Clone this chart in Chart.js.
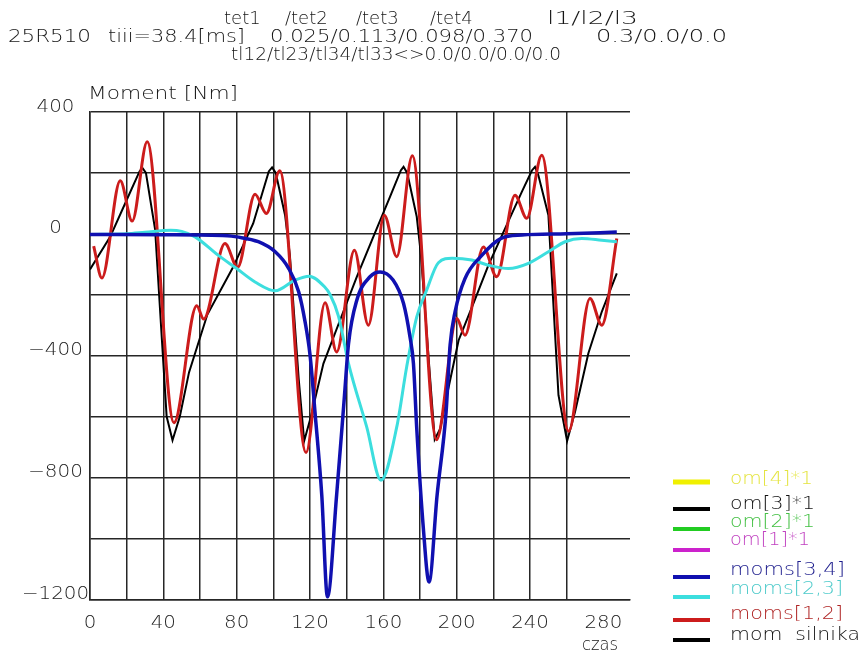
<!DOCTYPE html>
<html>
<head>
<meta charset="utf-8">
<script src="https://cdn.jsdelivr.net/npm/chart.js@4"></script>
<style>
  html, body { margin: 0; padding: 0; background: #ffffff; }
  #wrap { position: relative; width: 860px; height: 652px; overflow: hidden; }
  #c { position: absolute; left: 0; top: 0; }
  #txt { position: absolute; left: 0; top: 0; pointer-events: none; }
  #txt text { font-family: "DejaVu Sans", sans-serif; font-weight: 200; font-size: 18px; fill: #151515; }
  #txt .tick { font-size: 17px; fill: #1c1c1c; }
</style>
</head>
<body>
<div id="wrap">
  <canvas id="c" width="860" height="652"></canvas>
  <svg id="txt" width="860" height="652" xmlns="http://www.w3.org/2000/svg">
    <text x="224" y="17" dominant-baseline="central">tet1</text>
    <text x="285" y="17" dominant-baseline="central">/tet2</text>
    <text x="356" y="17" dominant-baseline="central">/tet3</text>
    <text x="430" y="17" dominant-baseline="central">/tet4</text>
    <text x="547" y="17" dominant-baseline="central" textLength="91" lengthAdjust="spacingAndGlyphs">l1/l2/l3</text>

    <text x="8" y="35" dominant-baseline="central" textLength="83" lengthAdjust="spacingAndGlyphs">25R510</text>
    <text x="108" y="35" dominant-baseline="central" textLength="137" lengthAdjust="spacingAndGlyphs">tiii=38.4[ms]</text>
    <text x="270" y="35" dominant-baseline="central" textLength="263" lengthAdjust="spacingAndGlyphs">0.025/0.113/0.098/0.370</text>
    <text x="596" y="35" dominant-baseline="central" textLength="131" lengthAdjust="spacingAndGlyphs">0.3/0.0/0.0</text>

    <text x="231" y="53" dominant-baseline="central" textLength="330" lengthAdjust="spacingAndGlyphs">tl12/tl23/tl34/tl33&lt;&gt;0.0/0.0/0.0/0.0</text>

    <text x="88" y="92" dominant-baseline="central" textLength="150" lengthAdjust="spacingAndGlyphs">Moment [Nm]</text>
    <text x="600" y="643" dominant-baseline="central" text-anchor="middle" textLength="36" lengthAdjust="spacingAndGlyphs">czas</text>
    <g id="ticks"></g>
    <g id="legend"></g>
  </svg>
</div>
<script>
// ---- series: engine torque (mom silnika)
const silnikX = [0, 11, 20, 27, 28.5, 30.5, 35.5, 41.8, 45, 49, 54, 64, 78, 89, 97.5, 99.3, 101.3, 106.4, 109, 113.8, 116.8,
                 120.5, 127.3, 136.4, 145.5, 154.5, 163.6, 169.5, 171, 173, 178.2, 180.5, 185.5, 188,
                 191, 195, 201, 209.5, 217.3, 226.4, 235.5, 241, 242.7, 244.5, 250, 255.5, 260.2,
                 264.5, 271.8, 279.1, 287.3];
const silnikY = [-117, -10, 111, 205, 217, 200, 15, -600, -678, -600, -455, -265, -110, 34, 205, 218, 200, 61, -70, -475, -680,
                 -600, -426, -283, -141, -10, 121, 208, 220, 200, 56, -70, -475, -675,
                 -640, -520, -350, -223, -103, 18, 138, 208, 220, 193, 61, -530, -680,
                 -585, -392, -256, -130];

// ---- series: moms[1,2]
const moms12X = [2, 6.5, 16.5, 23, 31.2, 45.8, 58.2, 62, 73.6, 80.5, 90, 96.2, 103.5, 117.8,
                 128.2, 134.5, 144.2, 151.8, 160.5, 167.3, 175.8, 189,
                 200, 204.5, 214.5, 221.8, 231.8, 238.2, 246.4, 261, 272.7, 279.1, 287.3];
const moms12Y = [-40, -145, 174, 42, 302, -620, -236, -280, -32, -110, 130, 67, 207, -718,
                 -226, -388, -54, -300, 61, -75, 256, -676,
                 -278, -333, -43, -141, 127, 51, 258, -648, -212, -300, -15];

// ---- series: moms[2,3]
const moms23X = [0, 20, 30, 44, 50, 57.3, 69.8, 80, 90, 101, 111.8, 119.5, 127.9, 131, 135.5, 141, 150.9, 158.7,
                 167.3, 172.7, 178.2, 183.6, 190, 197.5, 208.2, 217.3, 228.2, 239.1, 250, 259.1, 268.2, 279.1, 287.3];
const moms23Y = [-2, 0, 5, 12, 8, -10, -70, -114, -158, -187, -152, -139, -174, -200, -270, -426, -634, -809,
                 -634, -437, -273, -185, -95, -80, -86, -103, -114, -97, -59, -26, -15, -21, -26];

// ---- series: moms[3,4]
const moms34X = [0, 40, 75, 80, 91.8, 101, 108.4, 113.8, 117.3, 120, 122.7, 126.4, 129.5, 134.5, 138.8, 141,
                 145.5, 152.7, 158.2, 165.3, 171, 174.5, 176.4, 178.2, 181.8, 184.9, 189.3, 194.2, 196.4,
                 199.1, 204.5, 213.8, 224.2, 235.6, 260, 287.3];
const moms34Y = [-2, -3, -6, -10, -26, -59, -114, -190, -289, -398, -585, -858, -1192, -858, -530, -360,
                 -218, -141, -125, -152, -229, -338, -426, -639, -967, -1143, -858, -585, -365,
                 -256, -147, -70, -15, -4, 0, 6];

// ---- axis ticks
const yTickLabels = [-1200, -800, -400, 0, 400];
const xTickLabels = [0, 40, 80, 120, 160, 200, 240, 280];

// ---- legend entries (top to bottom)
const seriesNames  = ['om[4]*1', 'om[3]*1', 'om[2]*1', 'om[1]*1', 'moms[3,4]', 'moms[2,3]', 'moms[1,2]', 'mom  silnika'];
const lineColors   = ['#f0f000', '#000000', '#22cc22', '#cc22cc', '#1010b0', '#3cdede', '#cc1c1c', '#000000'];
const labelColors  = ['#e4e440', '#111111', '#44c044', '#c040c0', '#1c1c8c', '#4ccaca', '#b02626', '#111111'];

const pts = (xs, ys) => xs.map((x, i) => ({ x: x, y: ys[i] }));

const seriesData = [[], [], [], [], pts(moms34X, moms34Y), pts(moms23X, moms23Y), pts(moms12X, moms12Y), pts(silnikX, silnikY)];
const widths = [3, 2, 3, 3, 3.5, 3, 3, 2];

const datasets = seriesNames.map((name, i) => ({
  label: name,
  data: seriesData[i],
  borderColor: lineColors[i],
  borderWidth: widths[i],
  pointRadius: 0,
  fill: false,
  tension: i === 7 ? 0 : 0.4,
  cubicInterpolationMode: i === 7 ? 'default' : 'monotone'
}));

const NS = 'http://www.w3.org/2000/svg';
const fmt = v => (v < 0 ? '\u2212' + Math.abs(v) : String(v));
// wide stroke-font look: fixed advance per digit, longer minus sign
const labelWidth = s => s.replace('\u2212', '').length * 12.6 + (s.startsWith('\u2212') ? 17 : 0);

function addText(parent, x, y, str, anchor, cls, width) {
  const t = document.createElementNS(NS, 'text');
  t.setAttribute('x', x); t.setAttribute('y', y);
  t.setAttribute('dominant-baseline', 'central');
  t.setAttribute('text-anchor', anchor);
  if (cls) t.setAttribute('class', cls);
  if (width) { t.setAttribute('textLength', width); t.setAttribute('lengthAdjust', 'spacingAndGlyphs'); }
  t.textContent = str;
  parent.appendChild(t);
  return t;
}

// tick labels placed from the chart's own scales
const tickLabelPlugin = {
  id: 'tickLabels',
  afterDraw(chart) {
    const g = document.getElementById('ticks');
    while (g.firstChild) g.removeChild(g.firstChild);
    const xs = chart.scales.x, ys = chart.scales.y;
    yTickLabels.forEach(v => {
      const s = fmt(v);
      addText(g, 55.5, ys.getPixelForValue(v) - 6.5, s, 'middle', 'tick', labelWidth(s));
    });
    xTickLabels.forEach(v => {
      const s = String(v);
      addText(g, xs.getPixelForValue(v), xs.bottom - 30.5, s, 'middle', 'tick', labelWidth(s));
    });
  }
};

new Chart(document.getElementById('c'), {
  type: 'line',
  data: { datasets: datasets },
  plugins: [tickLabelPlugin],
  options: {
    responsive: false,
    animation: false,
    devicePixelRatio: 1,
    layout: { padding: { top: 112, right: 230, bottom: 0, left: 0 } },
    plugins: { legend: { display: false }, tooltip: { enabled: false }, title: { display: false } },
    scales: {
      x: {
        type: 'linear', min: 0, max: 294.5,
        afterFit: s => { s.height = 52.7; },
        ticks: { display: false, stepSize: 20, autoSkip: false },
        grid: {
          drawTicks: false, lineWidth: 1.5,
          color: c => (c.tick && c.tick.value % 20 === 0 ? '#262626' : 'rgba(0,0,0,0)')
        },
        border: { display: true, color: '#262626', width: 1.5 }
      },
      y: {
        type: 'linear', min: -1200, max: 400,
        afterFit: s => { s.width = 90; },
        ticks: { display: false, stepSize: 200, autoSkip: false },
        grid: { drawTicks: false, lineWidth: 1.5, color: '#262626' },
        border: { display: true, color: '#262626', width: 1.5 }
      }
    }
  }
});

// legend, built from the series names and colours
const legendLineY = [482, 509, 529, 550, 577, 597, 620, 640];
const legendTextY = [477, 502, 520, 538, 568, 587, 612, 633];
const legendTextW = [83, 85, 85, 80, 115, 113, 113, 130];
const lg = document.getElementById('legend');
seriesNames.forEach((name, i) => {
  const ln = document.createElementNS(NS, 'line');
  ln.setAttribute('x1', 673); ln.setAttribute('x2', 710);
  ln.setAttribute('y1', legendLineY[i]); ln.setAttribute('y2', legendLineY[i]);
  ln.setAttribute('stroke', lineColors[i]);
  ln.setAttribute('stroke-width', i === 0 ? 5 : 4);
  lg.appendChild(ln);
  const t = addText(lg, 730, legendTextY[i], name, 'start', null, legendTextW[i]);
  t.setAttribute('style', 'fill:' + labelColors[i] + '; white-space: pre');
});
</script>
</body>
</html>
